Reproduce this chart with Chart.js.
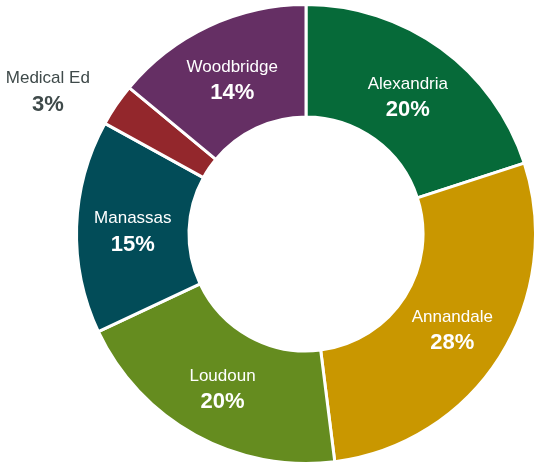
<!DOCTYPE html>
<html>
<head>
<meta charset="utf-8">
<script src="https://cdn.jsdelivr.net/npm/chart.js@4"></script>
<style>
  html, body { margin: 0; padding: 0; background: #fff; }
  #wrap { width: 539px; height: 465px; position: relative; }
</style>
</head>
<body>
<div id="wrap"><canvas id="myChart"></canvas></div>
<script>
var sites = ["Alexandria", "Annandale", "Loudoun", "Manassas", "Medical Ed", "Woodbridge"];
var shares = [20, 28, 20, 15, 3, 14];
var colors = ["#066a39", "#c99700", "#658c1f", "#024c58", "#93272c", "#652f64"];
var outside = [false, false, false, false, true, false];

// write the name + percent on each slice
var sliceLabels = {
  id: "sliceLabels",
  afterDatasetsDraw: function(chart) {
    var ctx = chart.ctx;
    var arcs = chart.getDatasetMeta(0).data;
    ctx.save();
    ctx.textAlign = "center";
    ctx.textBaseline = "middle";
    arcs.forEach(function(arc, i) {
      var p = arc.getProps(["x", "y", "startAngle", "endAngle", "innerRadius", "outerRadius"], true);
      var mid = (p.startAngle + p.endAngle) / 2;
      var r = (p.innerRadius + p.outerRadius) / 2;
      var x = p.x + Math.cos(mid) * r;
      var y = p.y + Math.sin(mid) * r + 3;
      ctx.fillStyle = "#ffffff";
      if (outside[i]) {
        // small slice: label sits out to the left
        x = p.x - p.outerRadius * 1.125;
        y = p.y + Math.sin(mid) * p.outerRadius * 1.105;
        ctx.fillStyle = "#3f4a4a";
      }
      ctx.font = "17px 'Liberation Sans', Arial, sans-serif";
      ctx.fillText(sites[i], x, y - 13);
      ctx.font = "bold 22px 'Liberation Sans', Arial, sans-serif";
      ctx.fillText(shares[i] + "%", x, y + 13);
    });
    ctx.restore();
  }
};

new Chart("myChart", {
  type: "doughnut",
  data: {
    labels: sites,
    datasets: [{
      data: shares,
      backgroundColor: colors,
      borderColor: "#ffffff",
      borderWidth: 3
    }]
  },
  options: {
    responsive: true,
    maintainAspectRatio: false,
    animation: false,
    cutout: "51%",
    layout: { padding: { left: 73, right: 0, top: 3, bottom: -3 } },
    plugins: {
      legend: { display: false },
      tooltip: { enabled: false }
    }
  },
  plugins: [sliceLabels]
});
</script>
</body>
</html>
